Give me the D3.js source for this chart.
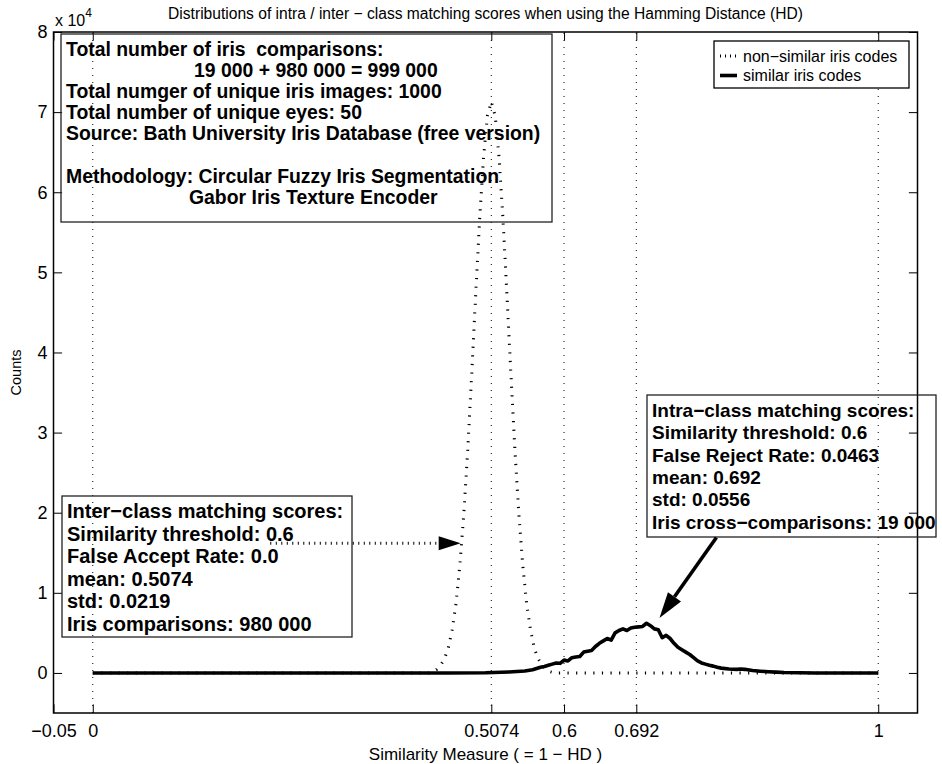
<!DOCTYPE html>
<html><head><meta charset="utf-8">
<script src="https://cdn.jsdelivr.net/npm/d3@7"></script>
<style>
body{margin:0;background:#fff}
svg{display:block}
text{font-family:"Liberation Sans",Arial,Helvetica,sans-serif;fill:#000;white-space:pre}
</style>
</head><body>
<svg id="chart" width="942" height="764"></svg>
<script>
// ---------------- data ----------------
const xTicks = [-0.05, 0, 0.5074, 0.6, 0.692, 1];
const xTickLabels = ["\u22120.05", "0", "0.5074", "0.6", "0.692", "1"];
const yTicks = [0, 1, 2, 3, 4, 5, 6, 7, 8];
const yTickLabels = ["0", "1", "2", "3", "4", "5", "6", "7", "8"];

// non-similar iris codes (inter-class), counts in units of 10^4
const nonSimilarX = [0, 0.4274, 0.4324, 0.4374, 0.4424, 0.4474, 0.4524, 0.4574, 0.4624, 0.4674, 0.4724, 0.4774,
  0.4824, 0.4874, 0.4924, 0.4974, 0.5024, 0.5074, 0.5124, 0.5174, 0.5224, 0.5274, 0.5324, 0.5374, 0.5424,
  0.5474, 0.5524, 0.5574, 0.5624, 0.5674, 0.5724, 0.5774, 0.5824, 0.5874, 0.5924, 1];
const nonSimilarY = [0, 0, 0.015, 0.04, 0.09, 0.17, 0.30, 0.53, 0.86, 1.35, 1.99, 2.79,
  3.72, 4.70, 5.64, 6.42, 6.95, 7.13, 6.95, 6.42, 5.64, 4.70, 3.72, 2.79, 1.99,
  1.35, 0.86, 0.53, 0.30, 0.17, 0.09, 0.04, 0.015, 0, 0, 0];
// similar iris codes (intra-class), counts in units of 10^4
const similarX = [0, 0.45, 0.50, 0.51, 0.52, 0.53, 0.54, 0.55, 0.56, 0.565, 0.57, 0.575, 0.58, 0.585, 0.59, 0.595,
  0.60, 0.605, 0.61, 0.615, 0.62, 0.625, 0.63, 0.635, 0.64, 0.645, 0.65, 0.655, 0.66, 0.665, 0.67, 0.675,
  0.68, 0.685, 0.69, 0.695, 0.70, 0.705, 0.71, 0.715, 0.72, 0.725, 0.73, 0.735, 0.74, 0.745, 0.75, 0.755,
  0.76, 0.765, 0.77, 0.775, 0.78, 0.785, 0.79, 0.795, 0.80, 0.81, 0.82, 0.825, 0.83, 0.84, 0.85, 0.86,
  0.87, 0.88, 0.90, 0.92, 1.0];
const similarY = [0, 0, 0.002, 0.005, 0.008, 0.012, 0.018, 0.025, 0.040, 0.055, 0.070, 0.080, 0.095, 0.110, 0.125, 0.120,
  0.160, 0.150, 0.190, 0.200, 0.205, 0.260, 0.270, 0.280, 0.330, 0.370, 0.400, 0.430, 0.410, 0.500, 0.530, 0.550,
  0.530, 0.560, 0.570, 0.575, 0.580, 0.620, 0.590, 0.550, 0.540, 0.440, 0.470, 0.430, 0.370, 0.320, 0.290, 0.260,
  0.230, 0.190, 0.150, 0.125, 0.110, 0.095, 0.085, 0.070, 0.060, 0.050, 0.045, 0.050, 0.045, 0.030, 0.022, 0.015,
  0.010, 0.006, 0.003, 0, 0];

const seriesNames = ["non\u2212similar iris codes", "similar iris codes"];
const titleText = "Distributions of intra / inter \u2212 class matching scores when using the Hamming Distance (HD)";
const xLabelText = "Similarity Measure ( = 1 \u2212 HD )";
const yLabelText = "Counts";

const infoLines = [
  {t: "Total number of iris  comparisons:", indent: 0},
  {t: "19 000 + 980 000 = 999 000", indent: 128},
  {t: "Total numger of unique iris images: 1000", indent: 0},
  {t: "Total number of unique eyes: 50", indent: 0},
  {t: "Source: Bath University Iris Database (free version)", indent: 0},
  {t: "", indent: 0},
  {t: "Methodology: Circular Fuzzy Iris Segmentation", indent: 0},
  {t: "Gabor Iris Texture Encoder", indent: 123}
];
const interLines = ["Inter\u2212class matching scores:", "Similarity threshold: 0.6", "False Accept Rate: 0.0",
  "mean: 0.5074", "std: 0.0219", "Iris comparisons: 980 000"];
const intraLines = ["Intra\u2212class matching scores:", "Similarity threshold: 0.6", "False Reject Rate: 0.0463",
  "mean: 0.692", "std: 0.0556", "Iris cross\u2212comparisons: 19 000"];

// ---------------- layout ----------------
const L = 53.5, R = 917.5, T = 32, B = 713;
const svg = d3.select("#chart");
const x = d3.scaleLinear().domain([-0.05, 1.05]).range([L, R]);
const y = d3.scaleLinear().domain([-0.5, 8]).range([B, T]);
const tickLen = 8.6;
const dotted = {w: 3, dash: "1.2,7.4"};

// grid (vertical dotted)
svg.append("g").selectAll("line").data(xTicks.filter(v => v > -0.05)).join("line")
  .attr("x1", d => x(d)).attr("x2", d => x(d)).attr("y1", B).attr("y2", T)
  .attr("stroke", "#000").attr("stroke-width", 1).attr("stroke-dasharray", "1,6");

// axes
const fmtX = (d, i) => xTickLabels[i];
const fmtY = (d, i) => yTickLabels[i];
function clean(g){ g.select(".domain").remove(); g.selectAll(".tick line").attr("stroke","#000").attr("stroke-width",1); }
svg.append("g").attr("transform", `translate(0,${B})`)
  .call(d3.axisBottom(x).tickValues(xTicks).tickFormat(fmtX).tickSize(-tickLen).tickPadding(11))
  .call(clean).call(g => g.selectAll("text").attr("font-size", 18).attr("font-family", null));
svg.append("g").attr("transform", `translate(0,${T})`)
  .call(d3.axisTop(x).tickValues(xTicks).tickFormat("").tickSize(-tickLen)).call(clean);
svg.append("g").attr("transform", `translate(${L},0)`)
  .call(d3.axisLeft(y).tickValues(yTicks).tickFormat(fmtY).tickSize(-tickLen).tickPadding(6))
  .call(clean).call(g => g.selectAll("text").attr("font-size", 18).attr("font-family", null));
svg.append("g").attr("transform", `translate(${R},0)`)
  .call(d3.axisRight(y).tickValues(yTicks).tickFormat("").tickSize(-tickLen)).call(clean);

// box
svg.append("rect").attr("x", L).attr("y", T).attr("width", R - L).attr("height", B - T)
  .attr("fill", "none").attr("stroke", "#000").attr("stroke-width", 1.5);

// series
const line = d3.line().x(d => x(d[0])).y(d => y(d[1]));
svg.append("path").datum(nonSimilarX.map((v, i) => [v, nonSimilarY[i]])).attr("d", line)
  .attr("fill", "none").attr("stroke", "#000").attr("stroke-width", dotted.w).attr("stroke-dasharray", dotted.dash);
svg.append("path").datum(similarX.map((v, i) => [v, similarY[i]])).attr("d", line)
  .attr("fill", "none").attr("stroke", "#000").attr("stroke-width", 3.6).attr("stroke-linejoin", "round");

// title & labels
svg.append("text").attr("x", (L + R) / 2).attr("y", 19).attr("text-anchor", "middle")
  .attr("font-size", 15.6).text(titleText);
svg.append("text").attr("x", (L + R) / 2).attr("y", 760).attr("text-anchor", "middle")
  .attr("font-size", 17).text(xLabelText);
svg.append("text").attr("transform", `translate(21,${(T + B) / 2}) rotate(-90)`).attr("text-anchor", "middle")
  .attr("font-size", 14.5).text(yLabelText);
const ex = svg.append("text").attr("x", 55).attr("y", 26).attr("font-size", 16);
ex.append("tspan").text("x 10");
ex.append("tspan").attr("dy", -9).attr("font-size", 12).text("4");

// text boxes
function textBox(bx, lines, fs) {
  svg.append("rect").attr("x", bx.x).attr("y", bx.y).attr("width", bx.w).attr("height", bx.h)
    .attr("fill", "none").attr("stroke", "#222").attr("stroke-width", 1.3);
  svg.append("g").selectAll("text").data(lines).join("text")
    .attr("x", d => bx.tx + (d.indent || 0)).attr("y", (d, i) => bx.ty + i * bx.dy)
    .attr("font-size", fs).attr("font-weight", "bold").text(d => d.t);
}
textBox({x: 61, y: 34, w: 491, h: 188, tx: 66, ty: 56, dy: 21.1}, infoLines, 19.4);
textBox({x: 62, y: 496, w: 290, h: 141, tx: 67, ty: 518, dy: 22.5}, interLines.map(t => ({t})), 20);
textBox({x: 647, y: 395, w: 289, h: 142, tx: 652, ty: 417, dy: 22.3}, intraLines.map(t => ({t})), 19);

// legend
const lg = {x: 714, y: 41, w: 195, h: 47};
svg.append("rect").attr("x", lg.x).attr("y", lg.y).attr("width", lg.w).attr("height", lg.h)
  .attr("fill", "#fff").attr("stroke", "#000").attr("stroke-width", 1.3);
const legItems = svg.append("g").selectAll("g").data(seriesNames).join("g")
  .attr("transform", (d, i) => `translate(${lg.x},${lg.y + 15 + i * 19.5})`);
legItems.append("line").attr("x1", 6).attr("x2", 23).attr("y1", 0).attr("y2", 0).attr("stroke", "#000")
  .attr("stroke-width", (d, i) => i === 0 ? dotted.w : 3.6)
  .attr("stroke-dasharray", (d, i) => i === 0 ? "1,4" : null);
legItems.append("text").attr("x", 29).attr("y", 5.5).attr("font-size", 16).text(d => d);

// arrows
function arrowHead(tip, tail, len, half) {
  const dx = tip[0] - tail[0], dy = tip[1] - tail[1];
  const n = Math.hypot(dx, dy), ux = dx / n, uy = dy / n;
  const bx = tip[0] - ux * len, by = tip[1] - uy * len;
  svg.append("path").attr("d", `M${tip[0]},${tip[1]}L${bx - uy * half},${by + ux * half}L${bx + uy * half},${by - ux * half}Z`)
    .attr("fill", "#000");
  return [bx, by];
}
// inter-class arrow (dotted), data coordinates
{
  const tail = [x(0.226), y(1.62)], tip = [x(0.4684), y(1.62)];
  const base = arrowHead(tip, tail, 22, 7);
  svg.append("line").attr("x1", tail[0]).attr("y1", tail[1]).attr("x2", base[0]).attr("y2", base[1])
    .attr("stroke", "#000").attr("stroke-width", dotted.w).attr("stroke-dasharray", "1,4.5");
}
// intra-class arrow (solid)
{
  const tail = [x(0.794), y(1.69)], tip = [x(0.7215), y(0.685)];
  const base = arrowHead(tip, tail, 26, 8);
  svg.append("line").attr("x1", tail[0]).attr("y1", tail[1]).attr("x2", base[0]).attr("y2", base[1])
    .attr("stroke", "#000").attr("stroke-width", 3.6);
}
</script>
</body></html>
